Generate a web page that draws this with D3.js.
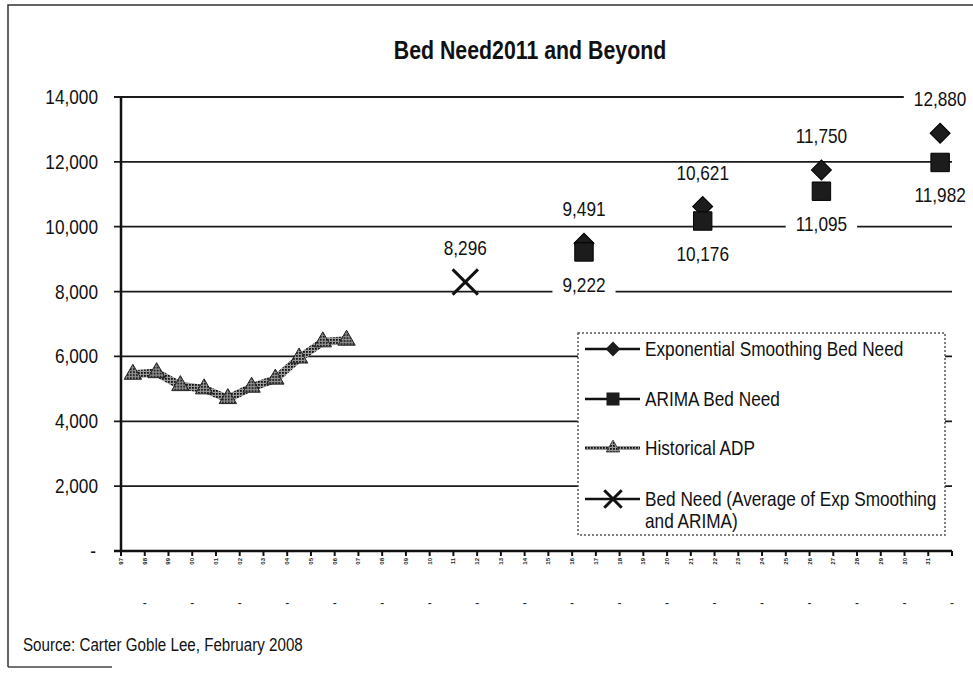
<!DOCTYPE html>
<html>
<head>
<meta charset="utf-8">
<script src="https://cdn.jsdelivr.net/npm/d3@7"></script>
<style>
body{margin:0;background:#fff;}
</style>
</head>
<body>
<div id="chart"></div>
<script>
// categories (years on the x axis)
var years = ["1997","1998","1999","2000","2001","2002","2003","2004","2005","2006",
             "2007","2008","2009","2010","2011","2012","2013","2014","2015","2016",
             "2017","2018","2019","2020","2021","2022","2023","2024","2025","2026",
             "2027","2028","2029","2030","2031"];

// historical average daily population
var histYears = ["1997","1998","1999","2000","2001","2002","2003","2004","2005","2006"];
var histADP = [5450, 5500, 5100, 5000, 4700, 5050, 5300, 5950, 6450, 6500];

// forecasts
var forecastYears = ["2016","2021","2026","2031"];
var expSmoothing = [9491, 10621, 11750, 12880];
var arima = [9222, 10176, 11095, 11982];
var avgYears = ["2011"];
var avgNeed = [8296];

var yTicks = [0, 2000, 4000, 6000, 8000, 10000, 12000, 14000];
var lowerLabels = ["-","-","-","-","-","-","-","-","-","-","-","-","-","-","-","-","-","-"];

var legendNames = ["Exponential Smoothing Bed Need", "ARIMA Bed Need", "Historical ADP",
                   "Bed Need (Average of Exp Smoothing|and ARIMA)"];

var W = 973, H = 683;
var font = "'Liberation Sans', Arial, sans-serif";
var SQ = 0.82;   // the print uses a narrow face, so squeeze the text

var svg = d3.select("#chart").append("svg").attr("width", W).attr("height", H);
svg.append("rect").attr("width", W).attr("height", H).style("fill", "#fff");

function squeeze(sel){
    sel.each(function(){
        var t = d3.select(this), X = +t.attr("x"), Y = +t.attr("y");
        t.attr("x", 0).attr("y", 0).attr("transform", "translate(" + X + "," + Y + ") scale(" + SQ + ",1)");
    });
    return sel;
}

var defs = svg.append("defs");
var pat = defs.append("pattern").attr("id", "halftone").attr("patternUnits", "userSpaceOnUse")
    .attr("width", 3).attr("height", 3);
pat.append("rect").attr("width", 3).attr("height", 3).style("fill", "#999");
pat.append("rect").attr("width", 1.8).attr("height", 1.8).style("fill", "#111");

// scanned page frame
svg.append("path").attr("d", "M8,667 V5 H973").style("fill", "none").style("stroke", "#333").style("stroke-width", 1.5);
svg.append("line").attr("x1", 8).attr("x2", 112).attr("y1", 667).attr("y2", 667).style("stroke", "#444").style("stroke-width", 1.5);

var x = d3.scaleBand().domain(years).range([121, 952]);
var y = d3.scaleLinear().domain([0, 14000]).range([551, 97]);
var cx = function(d){ return x(d) + x.bandwidth() / 2; };

// title
squeeze(svg.append("text").text("Bed Need2011 and Beyond")
    .attr("x", 530).attr("y", 59).attr("text-anchor", "middle")
    .style("font-family", font).style("font-weight", "bold").style("font-size", "26px").style("fill", "#111"));

// gridlines
svg.selectAll(".grid").data(yTicks.filter(function(d){ return d > 0; })).enter().append("line")
    .attr("x1", 114).attr("x2", 952).attr("y1", function(d){ return y(d); }).attr("y2", function(d){ return y(d); })
    .style("stroke", "#1a1a1a").style("stroke-width", 1.8);

// axes
svg.append("line").attr("x1", 121).attr("x2", 121).attr("y1", y(14000)).attr("y2", y(0))
    .style("stroke", "#111").style("stroke-width", 2.5);
svg.append("line").attr("x1", 114).attr("x2", 952).attr("y1", y(0)).attr("y2", y(0))
    .style("stroke", "#111").style("stroke-width", 2.5);

squeeze(svg.selectAll(".ylab").data(yTicks).enter().append("text")
    .text(function(d){ return d === 0 ? "-" : d3.format(",")(d); })
    .attr("x", function(d){ return d === 0 ? 96 : 98; }).attr("y", function(d){ return y(d) + 7; })
    .attr("text-anchor", "end")
    .style("font-family", font).style("font-size", "21px").style("fill", "#111"));

// x ticks and tiny rotated year labels
var tickPos = years.map(function(d){ return x(d); }).concat([x.range()[1]]);
svg.selectAll(".xtick").data(tickPos).enter().append("line")
    .attr("x1", function(d){ return d; }).attr("x2", function(d){ return d; })
    .attr("y1", y(0)).attr("y2", y(0) + 5).style("stroke", "#111").style("stroke-width", 2);
svg.selectAll(".xlab").data(years).enter().append("text")
    .text(function(d){ return d.slice(2); })
    .attr("transform", function(d){ return "translate(" + (x(d) + 2) + "," + (y(0) + 7) + ") rotate(-90)"; })
    .attr("text-anchor", "end")
    .style("font-family", font).style("font-size", "6px").style("font-weight", "bold").style("fill", "#222");

// second row of dashes
svg.selectAll(".dash").data(lowerLabels).enter().append("text").text(function(d){ return d; })
    .attr("x", function(d, i){ return tickPos[i * 2 + 1]; }).attr("y", 607)
    .attr("text-anchor", "middle")
    .style("font-family", font).style("font-size", "12px").style("fill", "#222");

// data labels with white backing
function addLabel(px, py, txt){
    var g = svg.append("g");
    var t = g.append("text").text(txt).attr("x", px).attr("y", py + 7).attr("text-anchor", "middle")
        .style("font-family", font).style("font-size", "21px").style("fill", "#111");
    var w = t.node().getComputedTextLength() * SQ;
    squeeze(t);
    g.insert("rect", "text").attr("x", px - w / 2 - 10).attr("y", py - 9).attr("width", w + 20).attr("height", 19)
        .style("fill", "#fff");
}
forecastYears.forEach(function(d, i){
    addLabel(cx(d), y(expSmoothing[i]) - 34, d3.format(",")(expSmoothing[i]));
    addLabel(cx(d), y(arima[i]) + 33, d3.format(",")(arima[i]));
});
avgYears.forEach(function(d, i){
    addLabel(cx(d), y(avgNeed[i]) - 34, d3.format(",")(avgNeed[i]));
});

// series: exponential smoothing (diamonds)
var diamond = d3.symbol(d3.symbolSquare, 200);
svg.selectAll(".exp").data(expSmoothing).enter().append("path").attr("d", diamond)
    .attr("transform", function(d, i){ return "translate(" + cx(forecastYears[i]) + "," + y(d) + ") rotate(45)"; })
    .style("fill", "#1c1c1c").style("stroke", "#000").style("stroke-width", 1);

// ARIMA (squares)
var square = d3.symbol(d3.symbolSquare, 340);
svg.selectAll(".arima").data(arima).enter().append("path").attr("d", square)
    .attr("transform", function(d, i){ return "translate(" + cx(forecastYears[i]) + "," + y(d) + ")"; })
    .style("fill", "#1c1c1c").style("stroke", "#000").style("stroke-width", 1);

// historical ADP
var hLine = d3.line().x(function(d, i){ return cx(histYears[i]); }).y(function(d){ return y(d); });
svg.append("path").datum(histADP).attr("d", hLine)
    .style("fill", "none").style("stroke", "url(#halftone)").style("stroke-width", 8);
var tri = d3.symbol(d3.symbolTriangle, 130);
svg.selectAll(".hist").data(histADP).enter().append("path").attr("d", tri)
    .attr("transform", function(d, i){ return "translate(" + cx(histYears[i]) + "," + y(d) + ")"; })
    .style("fill", "url(#halftone)").style("stroke", "#222").style("stroke-width", 1);

// average bed need (X)
var xMark = d3.symbol(d3.symbolX, 420);
svg.selectAll(".avg").data(avgNeed).enter().append("path").attr("d", xMark)
    .attr("transform", function(d, i){ return "translate(" + cx(avgYears[i]) + "," + y(d) + ")"; })
    .style("fill", "none").style("stroke", "#111").style("stroke-width", 3);

// legend
var leg = svg.append("g");
leg.append("rect").attr("x", 578).attr("y", 333).attr("width", 367).attr("height", 202)
    .style("fill", "#fff").style("stroke", "#555").style("stroke-width", 1.5).style("stroke-dasharray", "2,2");
var legY = [349, 399, 448, 499];
legendNames.forEach(function(name, i){
    var ly = legY[i];
    leg.append("line").attr("x1", 585).attr("x2", 640).attr("y1", ly).attr("y2", ly)
        .style("stroke", i === 2 ? "url(#halftone)" : "#111").style("stroke-width", i === 2 ? 4 : 2.5);
    var m = leg.append("path").attr("d", i === 0 ? d3.symbol(d3.symbolSquare, 110) : i === 1 ? d3.symbol(d3.symbolSquare, 170) : i === 2 ? d3.symbol(d3.symbolTriangle, 80) : d3.symbol(d3.symbolX, 200))
        .attr("transform", "translate(613," + ly + ")" + (i === 0 ? " rotate(45)" : ""));
    if (i === 3) m.style("fill", "none").style("stroke", "#111").style("stroke-width", 3);
    else if (i === 2) m.style("fill", "url(#halftone)").style("stroke", "#444");
    else m.style("fill", "#1c1c1c");
    name.split("|").forEach(function(part, k){
        squeeze(leg.append("text").text(part).attr("x", 645).attr("y", ly + 7 + k * 22)
            .style("font-family", font).style("font-size", "21px").style("fill", "#111"));
    });
});

// source
squeeze(svg.append("text").text("Source: Carter Goble Lee, February 2008")
    .attr("x", 23).attr("y", 651)
    .style("font-family", font).style("font-size", "18.5px").style("fill", "#111"));
</script>
</body>
</html>
